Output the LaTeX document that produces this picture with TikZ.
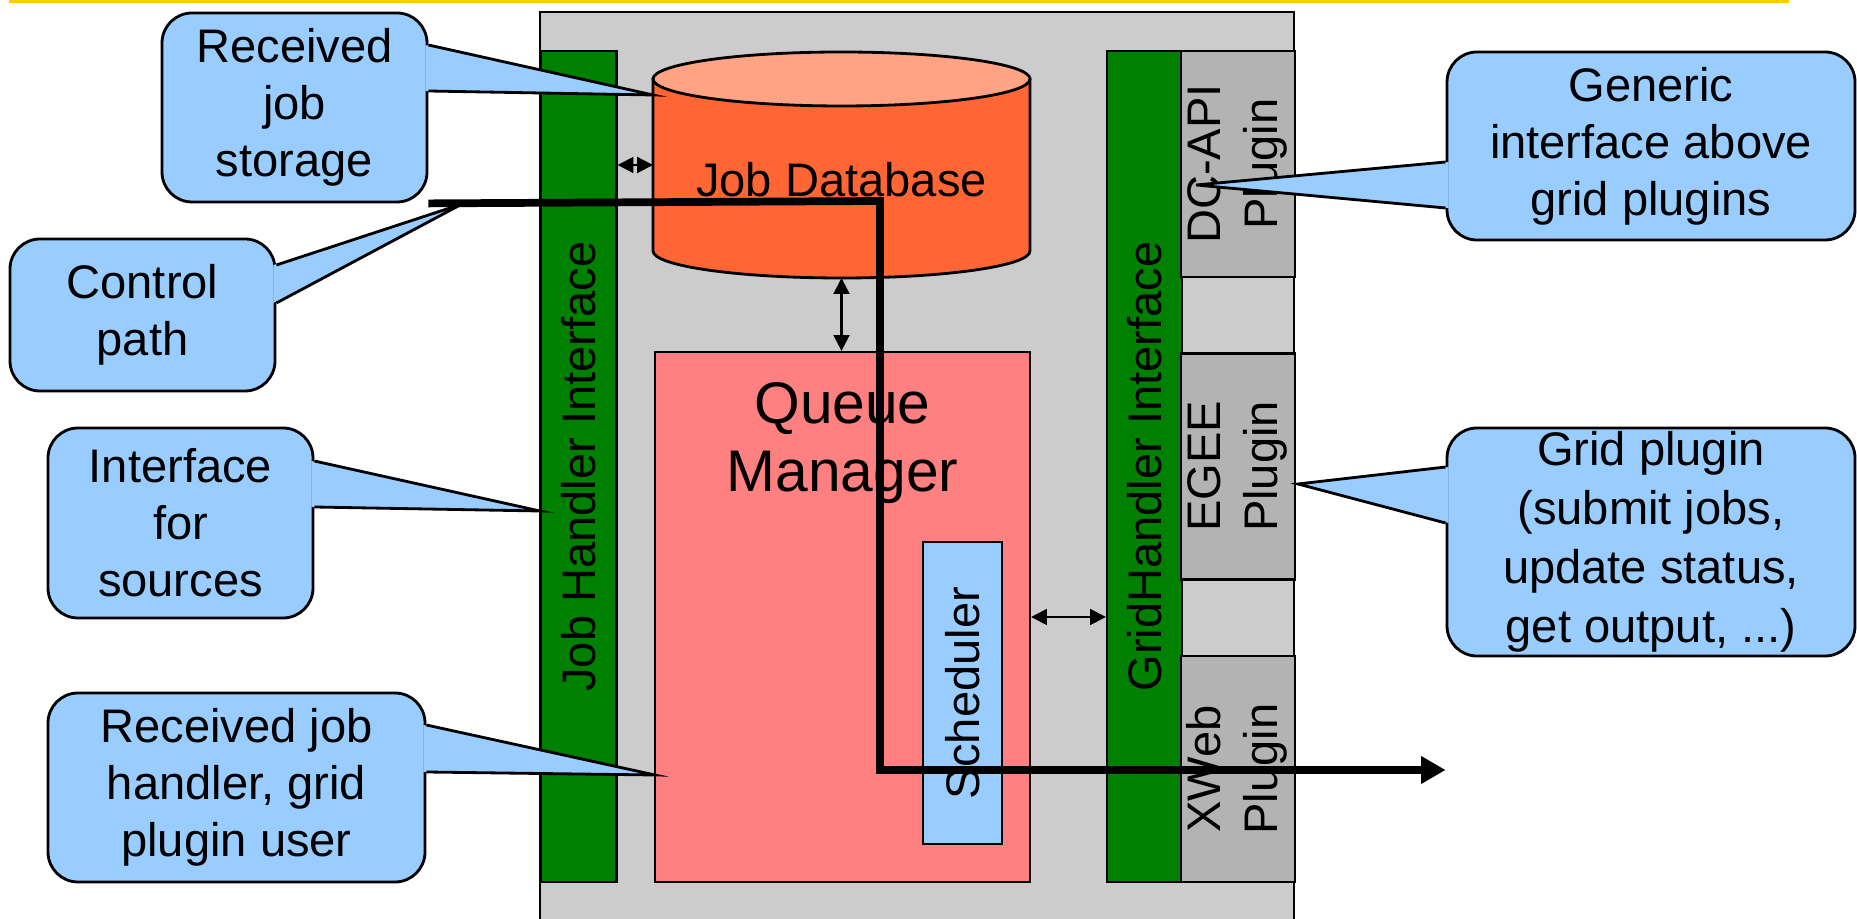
\documentclass[tikz,border=0pt]{standalone}
\usepackage{graphicx}
\usepackage{fontspec}
\setmainfont{Liberation Sans}
\usetikzlibrary{arrows.meta,calc,positioning}

\definecolor{coregray}{RGB}{204,204,204}
\definecolor{plugingray}{RGB}{179,179,179}
\definecolor{bargreen}{RGB}{0,128,0}
\definecolor{dbbody}{RGB}{255,102,51}
\definecolor{dbtop}{RGB}{255,163,133}
\definecolor{queuepink}{RGB}{255,128,128}
\definecolor{callblue}{RGB}{153,204,255}
\definecolor{topyellow}{RGB}{255,204,0}

\tikzset{
  box/.style={draw, line width=0.6pt, inner sep=0pt},
  bar/.style={box, fill=bargreen, minimum width=0.76cm, minimum height=8.31cm},
  plugin/.style={box, fill=plugingray, minimum width=1.12cm, minimum height=2.26cm},
  note/.style={box, fill=callblue, line width=0.8pt, rounded corners=0.3cm, align=center},
  link/.style={{Triangle[length=4.5pt,width=4.5pt]}-{Triangle[length=4.5pt,width=4.5pt]}, line width=0.6pt},
  ctrlpath/.style={line width=2.2pt, -{Triangle[length=7pt,width=7.5pt]}}
}

% pointer of a note: node side, inward shift, top y, bottom y, tip
\newcommand{\callptr}[5]{%
  \fill[callblue] ($(#1 |- 0,#3)+(#2,0)$) -- (#5) -- ($(#1 |- 0,#4)+(#2,0)$) -- cycle;
  \draw[line width=0.8pt] (#1 |- 0,#3) -- (#5) -- (#1 |- 0,#4);}

\begin{document}
\begin{tikzpicture}[every node/.style={font=\fontsize{13.4}{16.2}\selectfont}]
  \useasboundingbox (0,0) rectangle (18.57,-9.19);
  \draw[topyellow, line width=0.07cm] (0.09,0) -- (17.89,0);
  %% Core
  \node[box, fill=coregray, minimum width=7.54cm, minimum height=9.10cm] (core) at (9.17,-4.67) {};
  \node[bar] (jhi) at (5.785,-4.665) {\rotatebox{90}{Job Handler Interface}};
  \node[bar, minimum width=0.75cm] (ghi) at (11.445,-4.665) {\rotatebox{90}{GridHandler Interface}};
  \foreach \name/\ypos/\txt in {dcapi/-1.64/DC-API, egee/-4.665/EGEE, xweb/-7.69/XWeb}
    \node[plugin] (\name) at (12.38,\ypos) {\rotatebox{90}{\begin{tabular}{@{}c@{}}\txt\\Plugin\end{tabular}}};
  %% Job database
  \filldraw[fill=dbbody, line width=0.8pt] (6.53,-0.79) -- (6.53,-2.51)
    arc[start angle=180, end angle=360, x radius=1.885cm, y radius=0.27cm] -- (10.30,-0.79) -- cycle;
  \filldraw[fill=dbtop, line width=0.8pt] (8.415,-0.79) ellipse[x radius=1.885cm, y radius=0.27cm];
  \node (db) at (8.415,-1.80) {Job Database};
  \coordinate (dbw) at (6.53,-1.65);
  \coordinate (dbs) at (8.415,-2.78);
  %% Queue manager
  \node[box, fill=queuepink, minimum width=3.75cm, minimum height=5.30cm] (queue) at (8.425,-6.17) {};
  \node[font=\fontsize{16.7}{19.4}\selectfont, align=center] (qmlabel) at (8.425,-4.43) {Queue\\Manager};
  \node[box, fill=callblue, minimum width=0.79cm, minimum height=3.02cm] (sched) at (9.625,-6.93) {\rotatebox{90}{Scheduler}};
  %% Links
  \draw[link] (jhi.east |- dbw) -- (dbw);
  \draw[link] (dbs) -- (dbs |- queue.north);
  \draw[link] (queue.east) -- (queue.east -| ghi.west);
  %% Notes
  \node[note, minimum width=2.65cm, minimum height=1.89cm] (rcv) at (2.945,-1.075) {Received\\job\\storage};
  \node[note, minimum width=2.65cm, minimum height=1.52cm] (ctl) at (1.425,-3.15) {Control\\path};
  \node[note, minimum width=2.65cm, minimum height=1.90cm] (src) at (1.805,-5.23) {Interface\\for\\sources};
  \node[note, minimum width=3.77cm, minimum height=1.89cm] (rjh) at (2.365,-7.875) {Received job\\handler, grid\\plugin user};
  \node[note, minimum width=4.08cm, minimum height=1.88cm] (gen) at (16.51,-1.46) {Generic\\interface above\\grid plugins};
  \node[note, minimum width=4.08cm, minimum height=2.28cm, font=\fontsize{13.4}{16.8}\selectfont] (gpl) at (16.51,-5.42) {Grid plugin\\(submit jobs,\\update status,\\get output, ...)};
  \coordinate (rcvtip) at (6.53,-0.95);
  \coordinate (ctltip) at (4.62,-2.04);
  \coordinate (srctip) at (5.40,-5.11);
  \coordinate (rjhtip) at (6.55,-7.75);
  \coordinate (gentip) at (11.96,-1.85);
  \coordinate (gpltip) at (12.98,-4.84);
  \callptr{rcv.east}{-0.03}{-0.45}{-0.91}{rcvtip}
  \callptr{ctl.east}{-0.03}{-2.65}{-3.03}{ctltip}
  \callptr{src.east}{-0.03}{-4.61}{-5.07}{srctip}
  \callptr{rjh.east}{-0.03}{-7.25}{-7.72}{rjhtip}
  \callptr{gen.west}{0.03}{-1.62}{-2.08}{gentip}
  \callptr{gpl.west}{0.03}{-4.67}{-5.23}{gpltip}
  %% Control path
  \coordinate (cpturn) at (8.80,-2.01);
  \coordinate (cpdown) at (8.80,-7.70);
  \draw[ctrlpath] (rcv.south east) -- (cpturn) -- (cpdown) -- (gpl.west |- cpdown);
\end{tikzpicture}
\end{document}
